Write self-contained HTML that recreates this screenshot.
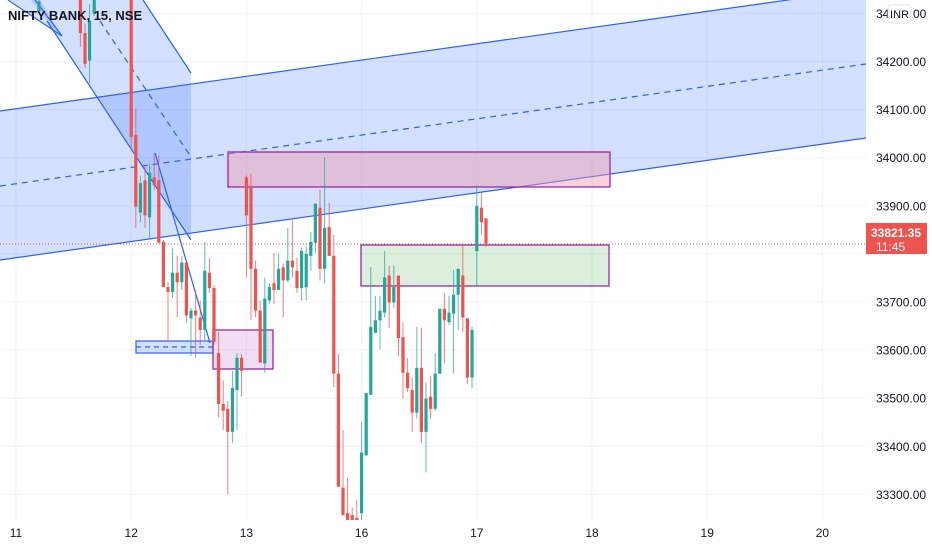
<!DOCTYPE html>
<html><head><meta charset="utf-8"><style>
html,body{margin:0;padding:0;background:#fff;}
svg{display:block;font-family:"Liberation Sans",sans-serif;}
</style></head><body>
<svg id="chart" width="932" height="550" viewBox="0 0 932 550" xmlns="http://www.w3.org/2000/svg">
<defs><clipPath id="plotclip"><rect x="0" y="0" width="866" height="520"/></clipPath></defs>
<rect x="0" y="0" width="932" height="550" fill="#ffffff"/>
<g id="grid"></g>
<g clip-path="url(#plotclip)">
  <polygon points="0,111 866,-11 866,138 0,260" fill="rgba(41,98,255,0.2)"/>
  <line x1="0" y1="111" x2="866" y2="-11" stroke="#2962ff" stroke-width="1.2"/>
  <line x1="0" y1="186" x2="866" y2="64" stroke="#2962ff" stroke-width="1.2" stroke-dasharray="6,5"/>
  <line x1="0" y1="260" x2="866" y2="138" stroke="#2962ff" stroke-width="1.2"/>
  <polygon points="31,0 143,0 191,73 191,240 47,21" fill="rgba(41,98,255,0.2)"/>
  <line x1="143" y1="0" x2="191" y2="73" stroke="#2962ff" stroke-width="1.2"/>
  <line x1="47" y1="21" x2="191" y2="240" stroke="#2962ff" stroke-width="1.2"/>
  <line x1="100" y1="21" x2="191" y2="157" stroke="#2962ff" stroke-width="1.2" stroke-dasharray="6,5"/>
  <polygon points="10,0 40,0 62,36" fill="rgba(41,98,255,0.2)"/>
  <line x1="8" y1="0" x2="62" y2="36" stroke="#2962ff" stroke-width="1.2"/>
  <line x1="35" y1="0" x2="62" y2="36" stroke="#2962ff" stroke-width="1.2"/>
  <line x1="155" y1="153" x2="210" y2="343" stroke="#2962ff" stroke-width="1.2"/>
  <rect x="136" y="341" width="77" height="12" fill="rgba(41,98,255,0.2)" stroke="#2962ff" stroke-width="1.2"/>
  <line x1="136" y1="347" x2="213" y2="347" stroke="#2962ff" stroke-width="1.2" stroke-dasharray="5,4"/>
  <rect x="228" y="152" width="382" height="35" fill="rgba(240,150,170,0.45)" stroke="#9c27b0" stroke-width="1.3"/>
  <rect x="361" y="245" width="248" height="41" fill="rgba(76,175,80,0.2)" stroke="#9c27b0" stroke-width="1.3"/>
  <rect x="213" y="330" width="60" height="39" fill="rgba(186,104,200,0.22)" stroke="#9c27b0" stroke-width="1.3"/>
</g>
<g id="candles" clip-path="url(#plotclip)"></g>
<line x1="0" y1="244" x2="866" y2="244" stroke="#ef5350" stroke-width="1" stroke-dasharray="1,2"/>
<g id="yaxis"></g>
<g id="xaxis"></g>
<text x="8" y="20" font-size="13" font-weight="bold" fill="#131722">NIFTY BANK, 15, NSE</text>
<rect x="888" y="5" width="23" height="18" rx="3" fill="#fff" stroke="#e0e3eb"/>
<text x="899.5" y="18" font-size="11" text-anchor="middle" fill="#131722">INR</text>
<rect x="866" y="223" width="61" height="31" fill="#ef5350"/>
<text x="896" y="237" font-size="12" font-weight="bold" text-anchor="middle" fill="#fff">33821.35</text>
<text x="876" y="251" font-size="12" fill="#fff">11:45</text>
</svg>
<script>
const dayLabels = ["11","12","13","16","17","18","19","20"];
const priceTicks = [34300,34200,34100,34000,33900,33800,33700,33600,33500,33400,33300];
const priceTickLabels = ["","34200.00","34100.00","34000.00","33900.00","","33700.00","33600.00","33500.00","33400.00","33300.00"];
const barDay = [0,0,0,0,0,
1,1,1,1,1,1,1,1,1,1,1,1,1,1,1,1,1,1,1,1,1,1,1,1,1,
2,2,2,2,2,2,2,2,2,2,2,2,2,2,2,2,2,2,2,2,2,2,2,2,2,
3,3,3,3,3,3,3,3,3,3,3,3,3,3,3,3,3,3,3,3,3,3,3,3,3,
4,4,4];
const barSlot = [5,14,15,16,17,
0,1,2,3,4,5,6,7,8,9,10,11,12,13,14,15,16,17,18,19,20,21,22,23,24,
0,1,2,3,4,5,6,7,8,9,10,11,12,13,14,15,16,17,18,19,20,21,22,23,24,
0,1,2,3,4,5,6,7,8,9,10,11,12,13,14,15,16,17,18,19,20,21,22,23,24,
0,1,2];
const opens = [34305,34349,34259,34202,34299,
34346,34047,33886,33953,33876,33959,33953,33825,33731,33721,33761,33741,33782,33666,33682,33668,33642,33761,33729,33594,33488,33478,33430,33517,33584,
33959,33939,33769,33682,33572,33703,33739,33725,33772,33745,33786,33765,33729,33731,33796,33823,33896,33769,33856,33796,33551,33314,33261,33257,33251,
33261,33381,33507,33636,33662,33678,33755,33699,33755,33627,33553,33517,33470,33563,33430,33503,33478,33551,33686,33658,33676,33715,33755,33666,33543,
33806,33896,33874];
const highs = [34339,34359,34279,34319,34359,
34359,34102,33963,33984,33988,34008,34004,33829,33741,33813,33796,33796,33786,33688,33725,33703,33825,33792,33735,33638,33537,33494,33557,33594,33592,
33963,33967,33786,33703,33751,33739,33802,33800,33780,33854,33870,33792,33813,33815,33846,33906,33933,34000,33906,33839,33592,33434,33334,33273,33288,
33450,33511,33772,33713,33713,33806,33776,33776,33755,33658,33584,33543,33648,33646,33533,33547,33594,33686,33719,33713,33767,33769,33817,33666,33648,
33943,33927,33874];
const lows = [34299,34230,34187,34155,34294,
34017,33854,33866,33854,33833,33933,33823,33731,33617,33709,33668,33725,33656,33588,33584,33611,33621,33719,33611,33460,33434,33300,33407,33434,33503,
33751,33662,33668,33574,33553,33696,33696,33725,33668,33741,33751,33719,33703,33703,33765,33802,33745,33739,33796,33523,33316,33257,33237,33237,33237,
33237,33381,33507,33636,33602,33668,33646,33688,33588,33499,33513,33430,33458,33407,33346,33458,33474,33551,33572,33652,33551,33642,33638,33529,33521,
33731,33840,33815];
const closes = [34325,34259,34195,34285,34349,
34043,33898,33947,33880,33969,33943,33823,33731,33721,33761,33741,33782,33672,33682,33672,33642,33765,33729,33617,33488,33474,33430,33521,33584,33557,
33880,33769,33682,33574,33707,33731,33725,33769,33745,33786,33772,33729,33806,33800,33825,33904,33769,33854,33796,33551,33316,33257,33237,33243,33239,
33387,33511,33648,33662,33682,33751,33699,33731,33625,33553,33521,33470,33563,33430,33499,33478,33551,33686,33662,33678,33715,33769,33668,33543,33642,
33900,33866,33821.35];

const NS = "http://www.w3.org/2000/svg";
function yScale(p){ return 157.7 + (34000 - p) * 0.481; }
function dayX(d){ return 16 + d * 115.2; }
function barX(d, s){ return dayX(d) + s * 4.6; }
function mk(tag, attrs){ const e = document.createElementNS(NS, tag); for (const k in attrs) e.setAttribute(k, attrs[k]); return e; }

const grid = document.getElementById('grid');
const yaxis = document.getElementById('yaxis');
const xaxis = document.getElementById('xaxis');
priceTicks.forEach((p, i) => {
  const y = yScale(p);
  const gl = mk('line', {x1:0, x2:866, y1:y, y2:y, stroke:'#f0f3fa', 'stroke-width':1});
  
  
  grid.appendChild(gl);
  if (priceTickLabels[i]) {
    const t = mk('text', {x:876, y:y + 4.5, 'font-size':12, fill:'#131722'});
    
    
    t.textContent = priceTickLabels[i];
    yaxis.appendChild(t);
  }
});
const t0 = mk('text', {x:876, y:yScale(34300) + 4.5, 'font-size':12, fill:'#131722'});


t0.textContent = '34';
yaxis.appendChild(t0);
const t1 = mk('text', {x:913, y:yScale(34300) + 4.5, 'font-size':12, fill:'#131722'});


t1.textContent = '00';
yaxis.appendChild(t1);

dayLabels.forEach((lab, d) => {
  const x = dayX(d);
  const gl = mk('line', {x1:x, x2:x, y1:0, y2:520, stroke:'#f0f3fa', 'stroke-width':1});
  
  
  grid.appendChild(gl);
  const t = mk('text', {x:x, y:537, 'font-size':12, fill:'#131722', 'text-anchor':'middle'});
  
  
  t.textContent = lab;
  xaxis.appendChild(t);
});

const cg = document.getElementById('candles');
for (let i = 0; i < opens.length; i++) {
  const x = barX(barDay[i], barSlot[i]);
  const up = closes[i] >= opens[i];
  const col = up ? '#26a69a' : '#ef5350';
  const g = mk('g', {});
  
  
  const w = mk('line', {x1:x, x2:x, y1:yScale(highs[i]), y2:yScale(lows[i]), stroke:col, 'stroke-width':1, 'stroke-opacity':0.75});
  
  
  const yt = yScale(Math.max(opens[i], closes[i]));
  const yb = yScale(Math.min(opens[i], closes[i]));
  const b = mk('rect', {x:x - 1.6, y:yt, width:3.2, height:Math.max(1, yb - yt), fill:col});
  
  
  g.appendChild(w); g.appendChild(b);
  cg.appendChild(g);
}
</script>
</body></html>
